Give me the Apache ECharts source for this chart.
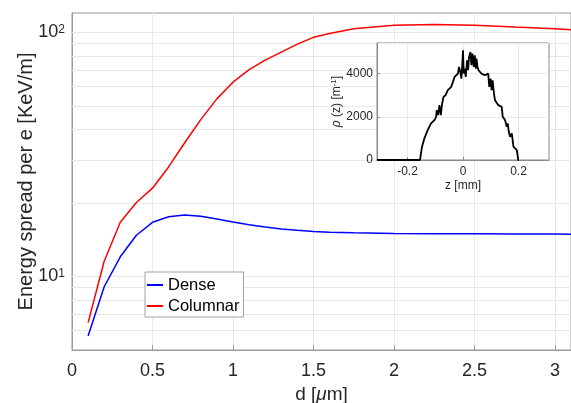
<!DOCTYPE html>
<html><head><meta charset="utf-8">
<script src="https://cdn.jsdelivr.net/npm/echarts@6/dist/echarts.min.js"></script>
<style>html,body{margin:0;padding:0;background:#fff}#c{width:571px;height:403px}</style>
</head><body><div id="c"></div>
<script>
// Main chart data
const dValues = [0.1,0.2,0.3,0.4,0.5,0.6,0.7,0.8,0.9,1.0,1.1,1.2,1.3,1.4,1.5,1.6,1.75,2.0,2.25,2.5,2.75,3.0,3.1];
const denseValues = [5.70,9.08,12.04,14.75,16.67,17.58,17.87,17.64,17.2,16.73,16.3,15.95,15.65,15.45,15.3,15.18,15.09,15.0,14.97,14.95,14.93,14.92,14.9];
const columnarValues = [6.47,11.55,16.67,20.1,23.0,28.1,35.3,43.9,53.4,62.5,70.3,77.0,83.0,89.5,95.4,99.0,103.4,106.8,107.6,107.0,105.1,103.4,102.4];
const yGridValues = [6,7,8,9,10,20,30,40,50,60,70,80,90,100];
// Inset data
const zValues = [-0.31,-0.155,-0.1478,-0.1393,-0.1333,-0.1272,-0.1212,-0.1152,-0.1091,-0.1030,-0.0970,-0.0945,-0.0897,-0.0848,-0.0800,-0.0752,-0.0703,-0.0630,-0.0545,-0.0485,-0.0424,-0.0364,-0.0303,-0.0242,-0.0182,-0.0145,-0.0096,-0.0059,-0.0023,0.0,0.0025,0.0062,0.0098,0.0147,0.0183,0.0219,0.0268,0.0304,0.0341,0.0389,0.0425,0.0462,0.0486,0.0522,0.0559,0.0607,0.0668,0.0728,0.0789,0.0850,0.0910,0.0947,0.0995,0.1032,0.1068,0.1116,0.1153,0.1213,0.1274,0.1335,0.1395,0.1432,0.1480,0.1516,0.1577,0.1613,0.1650,0.1698,0.1759,0.1819,0.1880,0.1941,0.1990,0.2020,0.31];
const rhoValues = [0,0,616,1001,1078,1386,1416,1694,1771,1848,2002,2309,2079,2540,2079,2617,2925,3002,3233,3310,3387,3464,3849,3926,4003,4311,4080,3772,4465,5081,4003,4234,3849,4619,4157,4773,5004,4388,4927,4311,4850,4234,4696,4311,4157,4080,4003,4080,3926,3849,4003,3387,3772,3233,3695,3079,2771,2694,2540,2540,2463,2002,1925,1848,1540,1694,1309,1078,1232,616,539,462,0,0];
const xTicksInset = [-0.2,0,0.2];

const txt = '#262626';
const axisCol = '#9a9a9a';
const gridCol = '#e8e8e8';
const font = 'Liberation Sans, Arial, sans-serif';

const chart = echarts.init(document.getElementById('c'), null, {renderer:'canvas'});
chart.setOption({
  animation:false,
  textStyle:{fontFamily:font},
  grid:[
    {left:72, top:13, right:0, bottom:53, show:true, borderColor:axisCol, borderWidth:1, backgroundColor:'transparent', z:0, containLabel:false, outerBoundsMode:'none'},
    {left:377, top:43, width:172, height:117, show:true, borderColor:'#8a8a8a', borderWidth:1, backgroundColor:'#fff', z:5, containLabel:false, outerBoundsMode:'none'}
  ],
  legend:{
    orient:'vertical', left:145, top:272, padding:[4,4,2,2], itemGap:3,
    backgroundColor:'#fff', borderColor:'#a0a0a0', borderWidth:1,
    itemWidth:16, itemHeight:2, icon:'rect',
    textStyle:{fontSize:16.5, color:'#000', fontFamily:font, lineHeight:18},
    data:['Dense','Columnar'], z:10
  },
  xAxis:[
    {gridIndex:0, type:'value', min:0, max:3.1, interval:0.5,
     name:'d [{i|\u03bc}m]', nameLocation:'middle', nameGap:35, nameMoveOverlap:false,
     nameTextStyle:{fontSize:19, color:txt, fontFamily:font,
       rich:{i:{fontSize:19, fontStyle:'italic', color:txt, fontFamily:font}}},
     axisLine:{show:true, lineStyle:{color:axisCol}},
     axisTick:{show:true, inside:true, length:5, lineStyle:{color:axisCol}},
     axisLabel:{fontSize:18, color:txt, margin:12, showMaxLabel:false, fontFamily:font},
     splitLine:{show:true, lineStyle:{color:gridCol}}},
    {gridIndex:1, type:'value', min:-0.31, max:0.31,
     name:'z [mm]', nameLocation:'middle', nameGap:20, nameMoveOverlap:false,
     nameTextStyle:{fontSize:12, color:txt, fontFamily:font},
     axisLine:{show:true, onZero:false, lineStyle:{color:'#8a8a8a'}},
     axisTick:{show:true, inside:true, length:3, customValues:xTicksInset, lineStyle:{color:'#8a8a8a'}},
     axisLabel:{fontSize:12, color:txt, margin:6, customValues:xTicksInset, fontFamily:font},
     splitLine:{show:true, lineStyle:{color:gridCol}}, z:6}
  ],
  yAxis:[
    {gridIndex:0, type:'log', logBase:10, min:5, max:120,
     name:'Energy spread per e [KeV/m]', nameLocation:'middle', nameGap:36, nameMoveOverlap:false,
     nameTextStyle:{fontSize:20, color:txt, fontFamily:font},
     axisLine:{show:true, lineStyle:{color:axisCol}},
     axisTick:{show:false},
     axisLabel:{color:txt, margin:7, showMinLabel:false, showMaxLabel:false,
       formatter:function(v){
         if (Math.abs(v-10)<1e-6) return '{b|10}{s|1}';
         if (Math.abs(v-100)<1e-6) return '{b|10}{s|2}';
         return '';
       },
       rich:{b:{fontSize:18, color:txt, fontFamily:font, verticalAlign:'bottom', lineHeight:18},
             s:{fontSize:12, color:txt, fontFamily:font, verticalAlign:'top', lineHeight:12, padding:[0,0,10,0]}}},
     splitLine:{show:false}},
    {gridIndex:1, type:'value', min:0, max:5420, interval:2000,
     name:'{r|\u03c1} (z) [m{s|-1}]', nameLocation:'middle', nameGap:33, nameMoveOverlap:false,
     nameTextStyle:{fontSize:12, color:txt, fontFamily:font,
       rich:{r:{fontSize:12, fontStyle:'italic', color:txt, fontFamily:font},
             s:{fontSize:8, color:txt, fontFamily:font, verticalAlign:'top', padding:[0,0,6,0]}}},
     axisLine:{show:true, onZero:false, lineStyle:{color:'#8a8a8a'}},
     axisTick:{show:true, inside:true, length:3, lineStyle:{color:'#8a8a8a'}},
     axisLabel:{fontSize:12, color:txt, margin:4, showMaxLabel:false, fontFamily:font,
       formatter:function(v){ return String(v); }},
     splitLine:{show:true, lineStyle:{color:gridCol}}, z:6}
  ],
  series:[
    {name:'Dense', type:'line', xAxisIndex:0, yAxisIndex:0, showSymbol:false, symbol:'none',
     data:dValues.map((d,i)=>[d,denseValues[i]]), lineStyle:{color:'#0000ff', width:1.5}, itemStyle:{color:'#0000ff'}, z:3,
     markLine:{silent:true, symbol:['none','none'], label:{show:false}, z:1, animation:false,
       lineStyle:{color:gridCol, type:'solid', width:1},
       data:yGridValues.map(v=>({yAxis:v}))}},
    {name:'Columnar', type:'line', xAxisIndex:0, yAxisIndex:0, showSymbol:false, symbol:'none',
     data:dValues.map((d,i)=>[d,columnarValues[i]]), lineStyle:{color:'#ff0000', width:1.5}, itemStyle:{color:'#ff0000'}, z:3},
    {name:'rho', type:'line', xAxisIndex:1, yAxisIndex:1, showSymbol:false, symbol:'none',
     data:zValues.map((z,i)=>[z,rhoValues[i]]), lineStyle:{color:'#000', width:1.8}, itemStyle:{color:'#000'}, z:7}
  ]
});
</script></body></html>
